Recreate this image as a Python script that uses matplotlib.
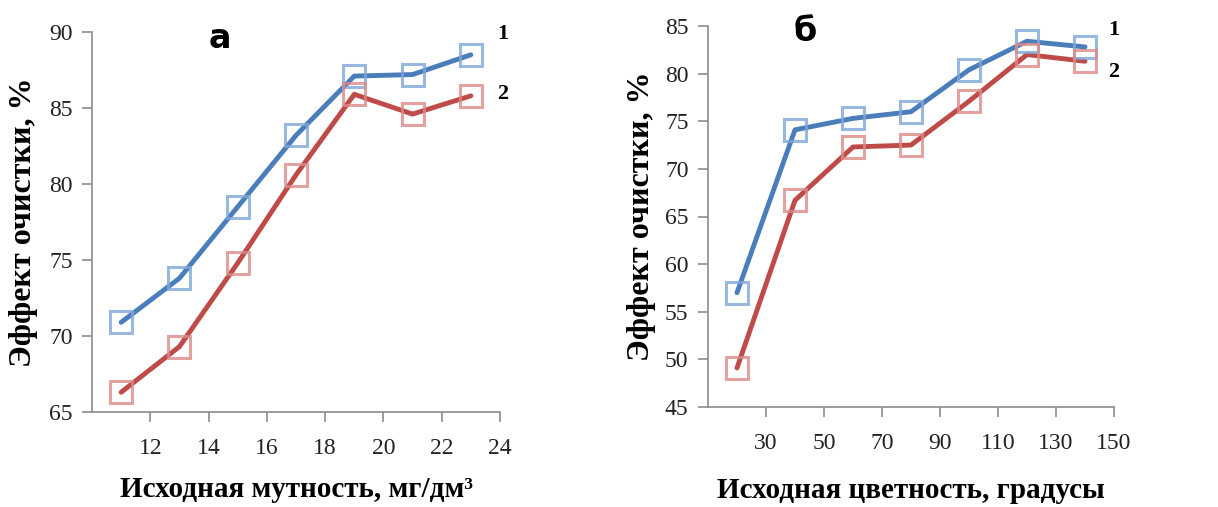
import numpy as np
import matplotlib.pyplot as plt

# panel a: turbidity
turb = [11, 13, 15, 17, 19, 21, 23]
turb_1 = [70.9, 73.8, 78.5, 83.2, 87.1, 87.2, 88.5]
turb_2 = [66.3, 69.3, 74.8, 80.6, 85.9, 84.6, 85.8]

# panel b: colour
color = [20, 40, 60, 80, 100, 120, 140]
color_1 = [57.0, 74.1, 75.3, 76.0, 80.4, 83.4, 82.8]
color_2 = [49.1, 66.7, 72.3, 72.5, 77.1, 82.0, 81.3]

serif = ['Liberation Serif', 'DejaVu Serif']
line_c = ['#4a7ebb', '#be4b48']
mark_c = ['#7fa6d8', '#dc8a88']

fig = plt.figure(figsize=(12.18, 5.07), dpi=100)
W, H = 1218, 507
ax1 = fig.add_axes([92 / W, 1 - 412 / H, 408 / W, 380 / H])
ax2 = fig.add_axes([708 / W, 1 - 407 / H, 406 / W, 381 / H])

def draw(ax, x, s1, s2):
    for y, lc, mc in zip([s1, s2], line_c, mark_c):
        ax.plot(x, y, color=lc, lw=3.5, solid_capstyle='round', zorder=2)
        ax.plot(x, y, ls='none', marker='s', ms=15.5, mfc='none', mec=mc,
                mew=2.2, alpha=0.8, zorder=3)
    for side in ['top', 'right']:
        ax.spines[side].set_visible(False)
    for side in ['left', 'bottom']:
        ax.spines[side].set_color('#8c8c8c')
        ax.spines[side].set_linewidth(1.2)
    ax.tick_params(direction='out', length=7, width=1.2, color='#8c8c8c',
                   labelsize=17, pad=7)
    ax.tick_params(axis='x', pad=12)
    ax.set_ylabel('Эффект очистки, %', family=serif, fontweight='bold',
                  fontsize=23, va='center')

def fix_labels(ax):
    for lab in ax.get_xticklabels() + ax.get_yticklabels():
        lab.set_family(serif)
        lab.set_color('#222222')

draw(ax1, turb, turb_1, turb_2)
ax1.set_xlim(10, 24)
ax1.set_ylim(65, 90)
ax1.set_xticks([12, 14, 16, 18, 20, 22, 24])
ax1.set_yticks([65, 70, 75, 80, 85, 90])
fix_labels(ax1)
ax1.set_xlabel('Исходная мутность, мг/дм³', family=serif, fontweight='bold',
               fontsize=21, va='center')
ax1.yaxis.set_label_coords(-0.169, 0.5)
ax1.xaxis.set_label_coords(0.5, -0.205)
ax1.text(14.4, 89.6, 'а', fontsize=24, fontweight='bold', ha='center', va='center')
ax1.text(24.1, 89.9, '1', family=serif, fontsize=16, fontweight='bold',
         ha='center', va='center', clip_on=False)
ax1.text(24.1, 85.9, '2', family=serif, fontsize=16, fontweight='bold',
         ha='center', va='center', clip_on=False)

draw(ax2, color, color_1, color_2)
ax2.set_xlim(10, 150)
ax2.set_ylim(45, 85)
ax2.set_xticks([30, 50, 70, 90, 110, 130, 150])
ax2.set_yticks(np.arange(45, 86, 5))
fix_labels(ax2)
ax2.set_xlabel('Исходная цветность, градусы', family=serif, fontweight='bold',
               fontsize=21, va='center')
ax2.yaxis.set_label_coords(-0.163, 0.5)
ax2.xaxis.set_label_coords(0.5, -0.218)
ax2.text(43.5, 84.4, 'б', fontsize=24, fontweight='bold', ha='center', va='center')
ax2.text(150, 84.6, '1', family=serif, fontsize=16, fontweight='bold',
         ha='center', va='center', clip_on=False)
ax2.text(150, 80.2, '2', family=serif, fontsize=16, fontweight='bold',
         ha='center', va='center', clip_on=False)

fig.savefig('out.png', dpi=100)
